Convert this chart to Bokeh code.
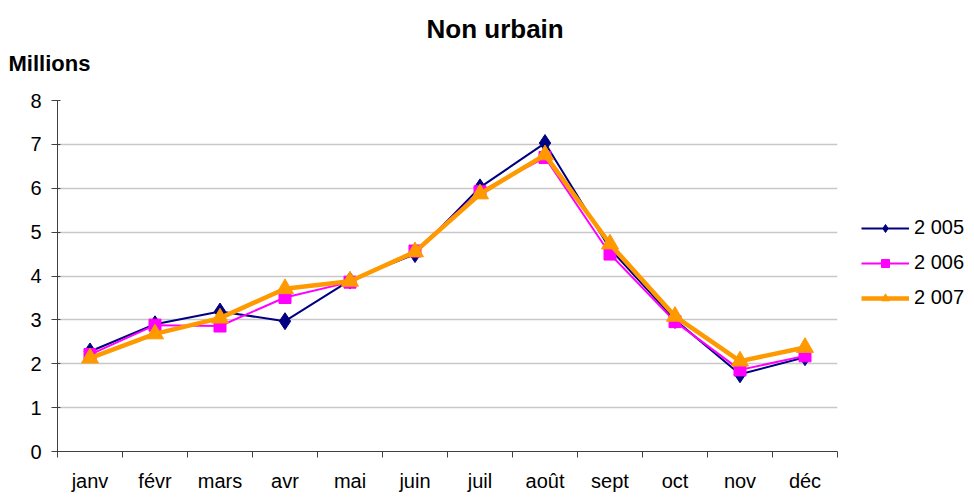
from bokeh.plotting import figure
from bokeh.models import (FixedTicker, Legend, LegendItem, Title, Range1d)
from bokeh.embed import file_html
from bokeh.resources import INLINE

months = ["janv", "févr", "mars", "avr", "mai", "juin", "juil", "août", "sept", "oct", "nov", "déc"]
s2005 = [2.28, 2.90, 3.19, 2.97, 3.90, 4.50, 6.02, 7.03, 4.62, 3.00, 1.76, 2.15]
s2006 = [2.21, 2.88, 2.86, 3.51, 3.86, 4.57, 5.92, 6.70, 4.50, 2.96, 1.86, 2.18]
s2007 = [2.13, 2.68, 3.04, 3.71, 3.88, 4.55, 5.87, 6.76, 4.73, 3.08, 2.06, 2.37]
labels = ["2 005", "2 006", "2 007"]
y_ticks = [0, 1, 2, 3, 4, 5, 6, 7, 8]

FONT = "Liberation Sans"
xs = [i + 0.5 for i in range(len(months))]

p = figure(frame_width=780, frame_height=351, output_backend="svg", toolbar_location=None,
           x_range=Range1d(0, 12), y_range=Range1d(0, 8),
           min_border_left=57, min_border_right=128, min_border_top=100, min_border_bottom=37)
p.outline_line_color = None
p.background_fill_color = "white"

# axes
p.xaxis.ticker = FixedTicker(ticks=xs, minor_ticks=list(range(13)))
p.xaxis.major_label_overrides = {x: m for x, m in zip(xs, months)}
p.xaxis.major_tick_line_color = None
p.xaxis.minor_tick_out = 6
p.xaxis.minor_tick_in = 0
p.xaxis.minor_tick_line_color = "#404040"
p.xaxis.axis_line_color = "#404040"
p.xaxis.major_label_text_font = FONT
p.xaxis.major_label_text_font_size = "20px"
p.xaxis.major_label_text_color = "black"
p.xaxis.major_label_standoff = 12

p.yaxis.ticker = FixedTicker(ticks=y_ticks)
p.yaxis.minor_tick_line_color = None
p.yaxis.major_tick_out = 6
p.yaxis.major_tick_in = 3
p.yaxis.major_tick_line_color = "#404040"
p.yaxis.axis_line_color = "#404040"
p.yaxis.major_label_text_font = FONT
p.yaxis.major_label_text_font_size = "20px"
p.yaxis.major_label_text_color = "black"
p.yaxis.major_label_standoff = 10

p.xgrid.grid_line_color = None
p.ygrid.grid_line_color = "#c8c8c8"
p.ygrid.grid_line_width = 1.5

# series
l1 = p.line(xs, s2005, line_color="#000080", line_width=2)
m1 = p.scatter(xs, s2005, marker="diamond", size=17, fill_color="#000080", line_color="#000080")
l2 = p.line(xs, s2006, line_color="#ff00ff", line_width=2)
m2 = p.scatter(xs, s2006, marker="square", size=12, fill_color="#ff00ff", line_color="#ff00ff")
l3 = p.line(xs, s2007, line_color="#ff9900", line_width=4.5)
m3 = p.scatter(xs, s2007, marker="triangle", size=17, fill_color="#ff9900", line_color="#ff9900")

legend = Legend(items=[LegendItem(label=labels[0], renderers=[l1, m1]),
                       LegendItem(label=labels[1], renderers=[l2, m2]),
                       LegendItem(label=labels[2], renderers=[l3, m3])],
                location=(24, 142), orientation="vertical")
legend.border_line_color = None
legend.background_fill_alpha = 0
legend.glyph_width = 48
legend.glyph_height = 20
legend.label_height = 20
legend.spacing = 12
legend.padding = 0
legend.margin = 0
legend.label_standoff = 5
legend.label_text_font = FONT
legend.label_text_font_size = "20px"
legend.label_text_color = "black"
p.add_layout(legend, "right")

# titles
t_units = Title(text="Millions", align="left", offset=-49, standoff=45,
                vertical_align="top",
                text_font=FONT, text_font_size="22px", text_font_style="bold",
                text_color="black")
p.add_layout(t_units, "above")
t_main = Title(text="Non urbain", align="left", offset=369, standoff=-30,
               text_font=FONT, text_font_size="26px", text_font_style="bold",
               text_color="black")
p.add_layout(t_main, "above")

open("out.html", "w").write(file_html(p, INLINE))
